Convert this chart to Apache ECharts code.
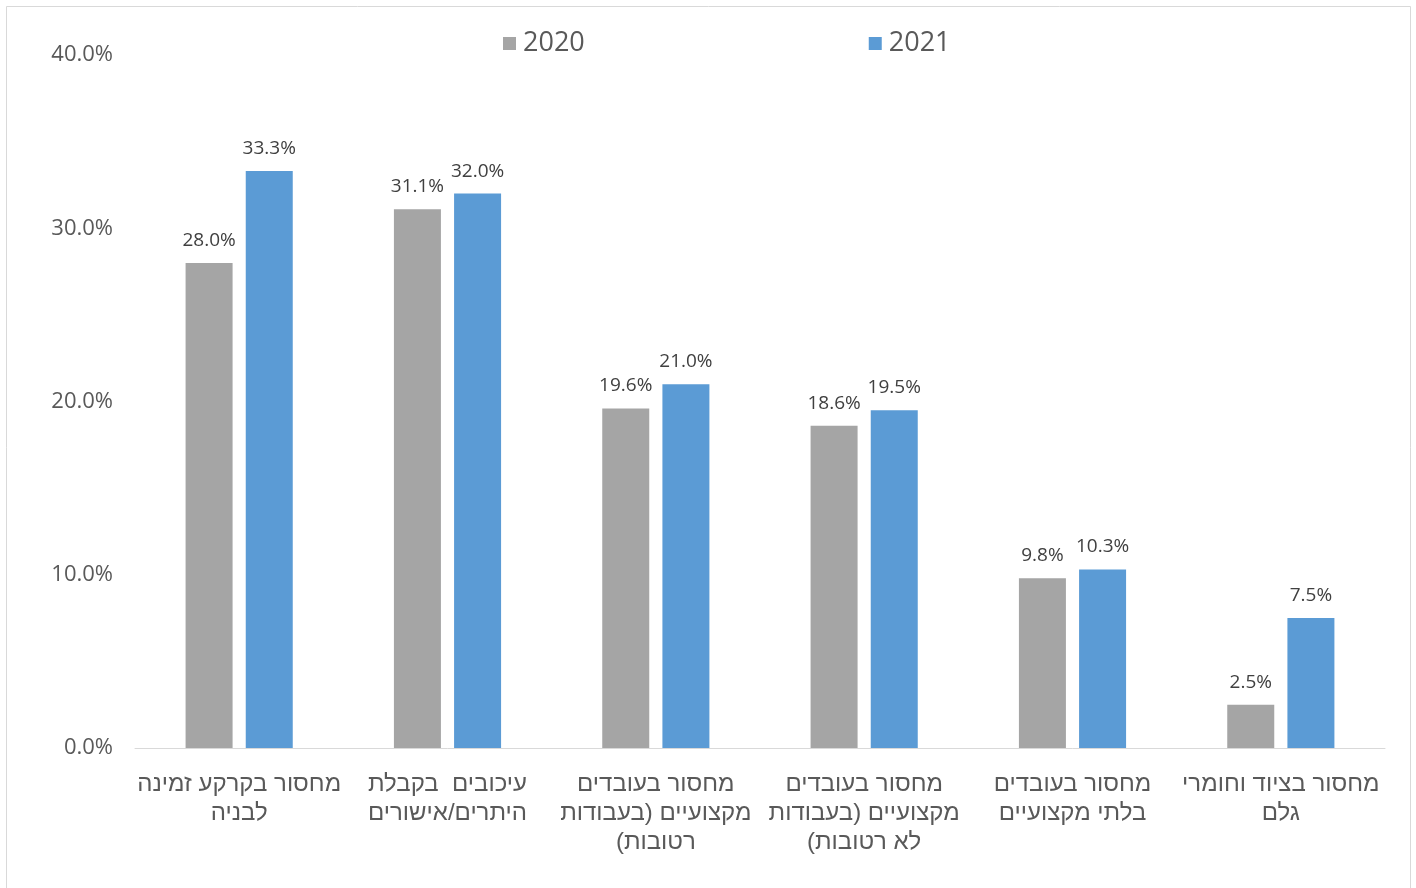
<!DOCTYPE html>
<html>
<head>
<meta charset="utf-8">
<script src="https://cdn.jsdelivr.net/npm/echarts@6/dist/echarts.min.js"></script>
<style>
html,body{margin:0;padding:0;background:#fff;}
#chart{width:1416px;height:888px;}
</style>
</head>
<body>
<div id="chart" dir="rtl"></div>
<script>
const categories = [
  'מחסור בקרקע זמינה\nלבניה',
  'עיכובים  בקבלת\nהיתרים/אישורים',
  'מחסור בעובדים\nמקצועיים (בעבודות\nרטובות)',
  'מחסור בעובדים\nמקצועיים (בעבודות\nלא רטובות)',
  'מחסור בעובדים\nבלתי מקצועיים',
  'מחסור בציוד וחומרי\nגלם'
];
const seriesNames = ['2020', '2021'];
const values2020 = [28.0, 31.1, 19.6, 18.6, 9.8, 2.5];
const values2021 = [33.3, 32.0, 21.0, 19.5, 10.3, 7.5];
const yTicks = [0, 10, 20, 30, 40];

const chart = echarts.init(document.getElementById('chart'), null, {renderer: 'canvas'});
const labelStyle = {
  show: true,
  position: 'top',
  distance: 13,
  color: '#404040',
  fontFamily: 'Open Sans',
  fontSize: 19,
  formatter: p => p.value.toFixed(1) + '%'
};
chart.setOption({
  animation: false,
  backgroundColor: '#ffffff',
  graphic: [{
    type: 'rect',
    shape: {x: 6.5, y: 6.5, width: 1404, height: 900},
    style: {fill: 'none', stroke: '#d9d9d9', lineWidth: 1},
    silent: true
  }],
  legend: {
    left: 498,
    top: 25,
    itemWidth: 13,
    itemHeight: 13,
    itemGap: 284,
    icon: 'rect',
    textStyle: {color: '#595959', fontFamily: 'Open Sans', fontSize: 27, padding: [0, 0, 0, 2]},
    data: seriesNames
  },
  grid: {left: 135, right: 31, top: 55, bottom: 140},
  xAxis: {
    type: 'category',
    data: categories,
    axisLine: {lineStyle: {color: '#d9d9d9', width: 1}},
    axisTick: {show: false},
    axisLabel: {
      interval: 0,
      color: '#595959',
      fontFamily: 'Liberation Sans',
      fontSize: 24,
      lineHeight: 29,
      margin: 22
    }
  },
  yAxis: {
    type: 'value',
    min: yTicks[0],
    max: yTicks[yTicks.length - 1],
    interval: 10,
    splitLine: {show: false},
    axisLine: {show: false},
    axisTick: {show: false},
    axisLabel: {
      color: '#595959',
      fontFamily: 'Open Sans',
      fontSize: 22,
      margin: 22,
      formatter: v => v.toFixed(1) + '%'
    }
  },
  series: [
    {
      name: seriesNames[0],
      type: 'bar',
      data: values2020,
      barWidth: 47,
      barGap: '28%',
      itemStyle: {color: '#a5a5a5'},
      label: labelStyle
    },
    {
      name: seriesNames[1],
      type: 'bar',
      data: values2021,
      barWidth: 47,
      barGap: '28%',
      itemStyle: {color: '#5b9bd5'},
      label: labelStyle
    }
  ]
});
</script>
</body>
</html>
